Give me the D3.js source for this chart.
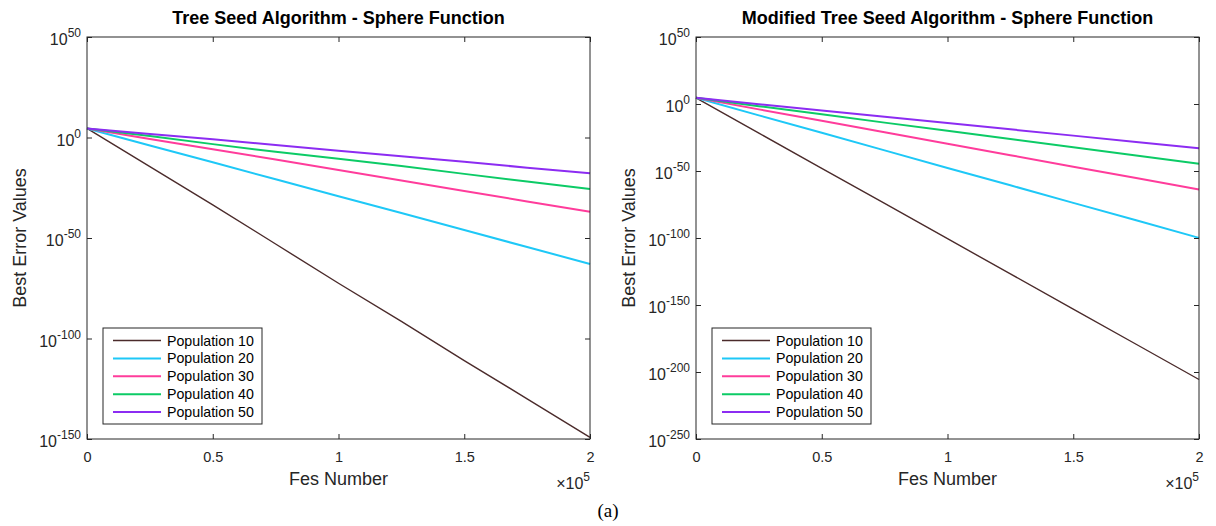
<!DOCTYPE html>
<html>
<head>
<meta charset="utf-8">
<script src="https://cdn.jsdelivr.net/npm/d3@7"></script>
<style>
  body { margin: 0; background: #fff; }
  text { font-family: "Liberation Sans", Arial, Helvetica, sans-serif; }
</style>
</head>
<body>
<svg id="viz"></svg>
<script>
// x positions (Fes number)
const fes = [0, 25000, 50000, 75000, 100000, 125000, 150000, 175000, 200000];

const seriesNames = ['Population 10', 'Population 20', 'Population 30', 'Population 40', 'Population 50'];
const seriesColors = ['#4b2b2b', '#1ec8f7', '#ff3c9b', '#0ccb66', '#8c2cf2'];

// log10 of best error values
// Tree Seed Algorithm
const tsaPop10 = [4.5, -14.5, -33.5, -53, -72.5, -91.5, -111, -130, -149.2];
const tsaPop20 = [4.5, -4, -12.3, -20.8, -29.2, -37.6, -46, -54.5, -62.9];
const tsaPop30 = [4.5, -0.7, -5.8, -11, -16.2, -21.4, -26.6, -31.8, -36.9];
const tsaPop40 = [4.5, 0.7, -3.3, -7.1, -10.6, -14.2, -18.1, -21.9, -25.6];
const tsaPop50 = [4.5, 1.7, -0.9, -3.7, -6.6, -9.3, -12.1, -15, -17.8];

// Modified Tree Seed Algorithm
const mtsaPop10 = [4.6, -21.7, -48, -74.2, -100.5, -126.8, -153, -179.3, -205.6];
const mtsaPop20 = [4.6, -8.5, -21.5, -34.6, -47.7, -60.7, -73.8, -86.8, -99.9];
const mtsaPop30 = [4.6, -4, -12.5, -21.1, -29.6, -38.2, -46.8, -55.3, -63.8];
const mtsaPop40 = [4.6, -1.6, -7.7, -13.9, -20, -26.2, -32.3, -38.5, -44.6];
const mtsaPop50 = [4.6, -0.1, -4.8, -9.5, -14.2, -18.9, -23.6, -28.3, -33];

const xTicks = [0, 50000, 100000, 150000, 200000];
const xTickLabels = ['0', '0.5', '1', '1.5', '2'];
const tsaYTicks = [50, 0, -50, -100, -150];
const mtsaYTicks = [50, 0, -50, -100, -150, -200, -250];

var width = 1216, height = 526;
var svg = d3.select('#viz').attr('width', width).attr('height', height);

var axisColor = '#262626';

function drawPanel(opts) {
    var left = opts.left, right = opts.left + 503, top = 37, bottom = 439;

    var x = d3.scaleLinear().domain([0, 200000]).range([left, right]);
    var y = d3.scaleLog().domain([Math.pow(10, opts.yMin), Math.pow(10, opts.yMax)]).range([bottom, top]);

    var g = svg.append('g');

    // lines
    var line = d3.line()
        .x((d) => x(d[0]))
        .y((d) => y(Math.pow(10, d[1])));

    opts.series.forEach(function(vals, i) {
        var pts = fes.map((f, j) => [f, vals[j]]);
        g.append('path')
            .datum(pts)
            .attr('d', line)
            .attr('fill', 'none')
            .attr('stroke', seriesColors[i])
            .attr('stroke-width', i == 0 ? 1.4 : 2);
    });

    // frame
    g.append('rect')
        .attr('x', left).attr('y', top)
        .attr('width', right - left).attr('height', bottom - top)
        .attr('fill', 'none').attr('stroke', axisColor).attr('stroke-width', 1);

    // x ticks (inward, top and bottom)
    var xa = d3.axisBottom(x).tickValues(xTicks).tickSizeInner(-5).tickSizeOuter(0)
        .tickFormat((d, i) => xTickLabels[i]).tickPadding(13);
    var xg = g.append('g').attr('transform', `translate(0,${bottom})`).call(xa);
    xg.select('.domain').remove();
    xg.selectAll('line').attr('stroke', axisColor);
    xg.selectAll('text').attr('fill', axisColor).style('font-size', '14.5px')
        .style('font-family', '"Liberation Sans", Arial, sans-serif');
    g.append('g').attr('transform', `translate(0,${top})`)
        .call(d3.axisTop(x).tickValues(xTicks).tickSizeInner(-5).tickSizeOuter(0).tickFormat(''))
        .call((s) => { s.select('.domain').remove(); s.selectAll('line').attr('stroke', axisColor); });

    // y ticks (inward, left and right)
    var yTickVals = opts.yTicks.map((e) => Math.pow(10, e));
    var ya = d3.axisLeft(y).tickValues(yTickVals).tickSizeInner(-5).tickSizeOuter(0).tickFormat('');
    var yg = g.append('g').attr('transform', `translate(${left},0)`).call(ya);
    yg.select('.domain').remove();
    yg.selectAll('line').attr('stroke', axisColor);
    g.append('g').attr('transform', `translate(${right},0)`)
        .call(d3.axisRight(y).tickValues(yTickVals).tickSizeInner(-5).tickSizeOuter(0).tickFormat(''))
        .call((s) => { s.select('.domain').remove(); s.selectAll('line').attr('stroke', axisColor); });

    // y tick labels as 10^n
    opts.yTicks.forEach(function(e) {
        var t = g.append('text')
            .attr('x', left - 6)
            .attr('y', y(Math.pow(10, e)) + 8)
            .attr('text-anchor', 'end')
            .attr('fill', axisColor)
            .style('font-size', '16px');
        t.append('tspan').text('10');
        t.append('tspan').attr('dy', -8).style('font-size', '12px').text(String(e));
    });

    // title
    g.append('text')
        .attr('x', (left + right) / 2).attr('y', 24)
        .attr('text-anchor', 'middle')
        .style('font-size', '18px').style('font-weight', 'bold')
        .attr('fill', '#000')
        .text(opts.title);

    // axis labels
    g.append('text')
        .attr('x', (left + right) / 2).attr('y', 485)
        .attr('text-anchor', 'middle')
        .style('font-size', '18px').attr('fill', axisColor)
        .text('Fes Number');

    g.append('text')
        .attr('transform', `translate(${left - 61},${(top + bottom) / 2}) rotate(-90)`)
        .attr('text-anchor', 'middle')
        .style('font-size', '18px').attr('fill', axisColor)
        .text('Best Error Values');

    var mult = g.append('text')
        .attr('x', right).attr('y', 489)
        .attr('text-anchor', 'end')
        .attr('fill', axisColor).style('font-size', '16px');
    mult.append('tspan').text('\u00d710');
    mult.append('tspan').attr('dy', -8).style('font-size', '12px').text('5');

    // legend
    var lx = left + 16, ly = 328;
    var legend = g.append('g').attr('transform', `translate(${lx},${ly})`);
    legend.append('rect')
        .attr('width', 159).attr('height', 96)
        .attr('fill', '#fff').attr('stroke', axisColor).attr('stroke-width', 1);
    seriesNames.forEach(function(name, i) {
        var yy = 12.5 + i * 17.9;
        legend.append('line')
            .attr('x1', 10).attr('x2', 58).attr('y1', yy).attr('y2', yy)
            .attr('stroke', seriesColors[i]).attr('stroke-width', i == 0 ? 1.6 : 2);
        legend.append('text')
            .attr('x', 64).attr('y', yy + 5)
            .attr('fill', '#000').style('font-size', '14.2px')
            .text(name);
    });
}

drawPanel({
    left: 87,
    title: 'Tree Seed Algorithm - Sphere Function',
    yMin: -150, yMax: 50, yTicks: tsaYTicks,
    series: [tsaPop10, tsaPop20, tsaPop30, tsaPop40, tsaPop50]
});

drawPanel({
    left: 696,
    title: 'Modified Tree Seed Algorithm - Sphere Function',
    yMin: -250, yMax: 50, yTicks: mtsaYTicks,
    series: [mtsaPop10, mtsaPop20, mtsaPop30, mtsaPop40, mtsaPop50]
});

svg.append('text')
    .attr('x', 608).attr('y', 517)
    .attr('text-anchor', 'middle')
    .style('font-family', '"Liberation Serif", "Times New Roman", serif')
    .style('font-size', '19px')
    .text('(a)');
</script>
</body>
</html>
